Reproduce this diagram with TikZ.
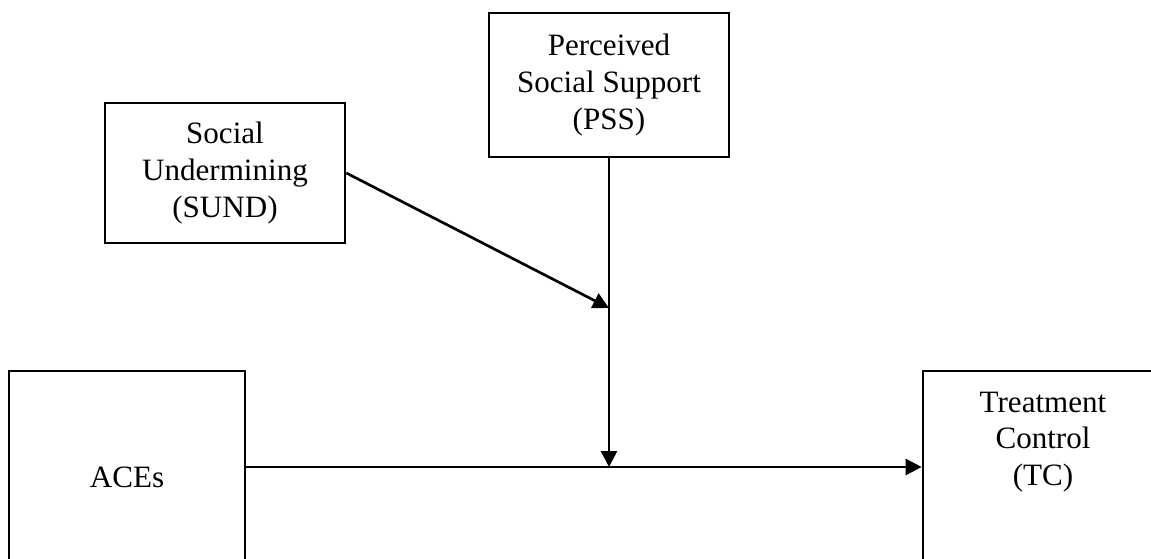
\documentclass[tikz,border=0pt]{standalone}
\usepackage{fontspec}
\setmainfont{Liberation Serif}
\usetikzlibrary{arrows.meta}
\begin{document}
\begin{tikzpicture}[x=0.75pt,y=-0.75pt,
  box/.style={draw, line width=2pt, inner sep=0pt, align=center,
    font=\fontsize{23.3}{27.4}\selectfont},
  lbl/.style={inner sep=0pt, align=center, font=\fontsize{23.3}{27.4}\selectfont},
  arr/.style={line width=2pt, -{Triangle[length=12pt,width=12pt]}}]
\useasboundingbox (0,0) rectangle (1151,559);
\clip (0,0) rectangle (1151,559);
\node[box, minimum width=180pt, minimum height=108pt] (pss) at (609,85) {Perceived\\Social Support\\(PSS)};
\node[box, minimum width=180pt, minimum height=105pt] (sund) at (225,173) {Social\\Undermining\\(SUND)};
\node[box, minimum width=177pt, minimum height=159pt] (aces) at (127,477) {ACEs};
\node[box, minimum width=180pt, minimum height=180pt] (tcbox) at (1043,491) {};
\node[lbl] (tctext) at (1043,442) {Treatment\\Control\\(TC)};
\coordinate (junction) at (609,467);
\coordinate (mod) at (609,308);
\draw[arr] (aces.east |- junction) -- (tcbox.west |- junction);
\draw[arr] (pss.south) -- (junction);
\draw[arr] (sund.east) -- (mod);
\end{tikzpicture}
\end{document}
